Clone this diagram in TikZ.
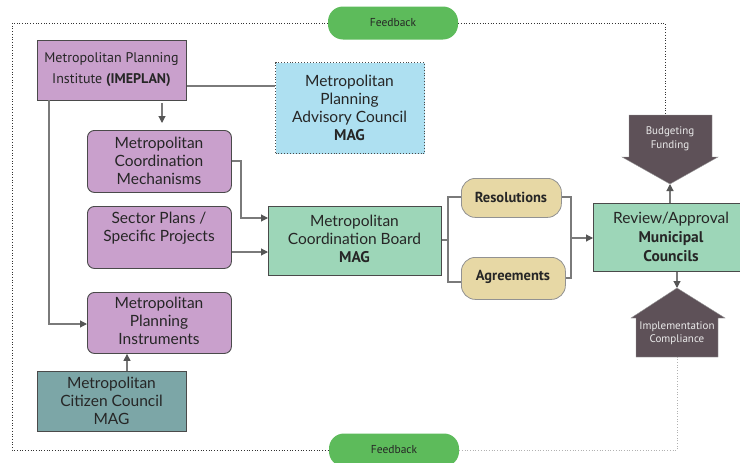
\documentclass[tikz,border=0pt]{standalone}
\usepackage{fontspec}
\setmainfont{Lato}
\newfontfamily\condf{PT Sans}
\usetikzlibrary{arrows.meta,positioning,calc}
\definecolor{purp}{HTML}{C9A0CC}
\definecolor{boardg}{HTML}{9DD6B8}
\definecolor{advb}{HTML}{AEE0F1}
\definecolor{tealc}{HTML}{7CA6A7}
\definecolor{tanc}{HTML}{E7D8A5}
\definecolor{fbg}{HTML}{5DBB5B}
\definecolor{darkp}{HTML}{5E5158}
\definecolor{edgec}{HTML}{4A4A4A}
\definecolor{conn}{HTML}{7A7A7A}
\definecolor{tipc}{HTML}{555555}
\definecolor{txt}{HTML}{262626}
\tikzset{
  base/.style={draw=edgec, line width=0.9pt, text=txt, align=center, inner sep=0pt, anchor=north west},
  sqbox/.style={base, fill=purp},
  rbox/.style={base, fill=purp, rounded corners=7pt},
  pill/.style={draw=edgec!60, line width=0.8pt, fill=tanc, rounded corners=14pt, inner sep=0pt, anchor=north west},
  fb/.style={fill=fbg, rounded corners=15pt, text=txt, inner sep=0pt, font=\condf\fontsize{11.5}{13}\selectfont},
  conline/.style={draw=conn, line width=1.1pt},
  arr/.style={conline, -{Triangle[length=7pt,width=7pt,fill=tipc,color=tipc]}},
  frame/.style={draw=black!80, line width=0.7pt, dotted},
  lframe/.style={draw=black!30, line width=0.7pt, dotted},
  bigarr/.style={fill=darkp, draw=black!40, line width=0.4pt},
  bigtxt/.style={text=white!92!black, align=center, font=\condf\fontsize{11}{13.5}\selectfont},
  lbl/.style={text=txt, align=center, font=\fontsize{15.5}{18}\selectfont},
}
\begin{document}
\begin{tikzpicture}[x=1pt,y=-1pt]
\useasboundingbox (0,0) rectangle (740,463);
\fill[white] (0,0) rectangle (740,463);

% feedback pills
\node[fb, minimum width=130pt, minimum height=33pt] (fbtop) at (393,23) {Feedback};
\node[fb, minimum width=130pt, minimum height=33pt] (fbbot) at (394,450) {Feedback};

% boxes
\node[sqbox, minimum width=149pt, minimum height=60pt] (imeplan) at (37,40) {};
\node[text=txt, align=center, font=\condf\fontsize{14}{21}\selectfont] (imeplantxt) at (111.5,70) {Metropolitan Planning\\Institute \textbf{(IMEPLAN)}};

\node[base, fill=advb, draw=edgec, dotted, line width=1pt, minimum width=149pt, minimum height=91pt] (adv) at (275,62) {};
\node[lbl] (advtxt) at (349.5,107.5) {Metropolitan\\Planning\\Advisory Council\\{\condf\bfseries\fontsize{15.5}{18}\selectfont MAG}};

\node[rbox, minimum width=144pt, minimum height=62pt] (mech) at (87,130) {};
\node[lbl] (mechtxt) at (159,161) {Metropolitan\\Coordination\\Mechanisms};

\node[rbox, minimum width=144pt, minimum height=62pt] (sector) at (87,206) {};
\node[lbl] (sectortxt) at (159,228) {Sector Plans /\\Specific Projects};

\node[rbox, minimum width=144pt, minimum height=61pt] (instr) at (87,292) {};
\node[lbl] (instrtxt) at (159,321) {Metropolitan\\Planning\\Instruments};

\node[base, fill=tealc, minimum width=149pt, minimum height=60pt] (citizen) at (37,371) {};
\node[lbl] (citizentxt) at (111.5,401) {Metropolitan\\Citizen Council\\MAG};

\node[base, fill=boardg, minimum width=173pt, minimum height=69pt] (board) at (268,206) {};
\node[lbl] (boardtxt) at (354.5,239) {Metropolitan\\Coordination Board\\{\condf\bfseries\fontsize{15.5}{18}\selectfont MAG}};

\node[pill, minimum width=100pt, minimum height=39pt] (resol) at (461,178) {};
\node[text=txt, font=\condf\bfseries\fontsize{14.5}{16}\selectfont] (resoltxt) at (511,197) {Resolutions};
\node[pill, minimum width=104pt, minimum height=42pt] (agree) at (461,257) {};
\node[text=txt, font=\condf\bfseries\fontsize{14.5}{16}\selectfont] (agreetxt) at (513,277) {Agreements};

\node[base, fill=boardg, minimum width=152pt, minimum height=68pt] (review) at (593,203) {};
\node[text=txt, align=center, font=\fontsize{15.5}{19}\selectfont] (reviewtxt) at (671,237) {Review/Approval\\{\condf\bfseries\fontsize{15.5}{19}\selectfont Municipal}\\{\condf\bfseries\fontsize{15.5}{19}\selectfont Councils}};

% big arrows
\coordinate (budtip) at (670,184);
\coordinate (budtop) at (665,115);
\draw[bigarr] (629,115) -- (712,115) -- (712,157) -- (718,157) -- (budtip) -- (622,157) -- (629,157) -- cycle;
\node[bigtxt] (budtxt) at (670,139) {Budgeting\\Funding};

\coordinate (imptip) at (677,288);
\coordinate (impbot) at (677,357);
\draw[bigarr] (636,357) -- (636,318) -- (631,318) -- (imptip) -- (725,318) -- (718,318) -- (718,357) -- cycle;
\node[bigtxt] (imptxt) at (677,333) {Implementation\\Compliance};

% frame
\draw[frame] (fbtop.west) -- (12,23) -- (12,450) -- (fbbot.west);
\draw[frame] (fbtop.east) -| (budtop);
\draw[lframe] (fbbot.east) -| (impbot);

% connectors
\draw[conline] (imeplan.east |- 0,86) -- (adv.west |- 0,86);
\draw[arr] (162,103) -- (162,123);
\draw[arr] (mech.east |- 0,161) -- (241,161) -- (241,218) -- (board.west |- 0,218);
\draw[arr] (sector.east |- 0,252) -- (board.west |- 0,252);
\draw[arr] (49,100) -- (49,324) -- (instr.west |- 0,324);
\draw[arr] (citizen.north -| 127,0) -- (instr.south -| 127,0);

\coordinate (bsplit) at (448,240);
\draw[conline] (board.east |- bsplit) -- (bsplit);
\draw[conline] (resol.west |- 0,197) -- (448,197) -- (448,282) -- (agree.west |- 0,282);
\draw[conline] (resol.east |- 0,197) -- (571,197) -- (571,278) -- (agree.east |- 0,278);
\draw[arr] (571,238) -- (review.west |- 0,238);
\draw[arr] (review.north -| 670,0) -- (budtip);
\draw[arr] (review.south -| 677,0) -- (imptip);
\end{tikzpicture}
\end{document}
